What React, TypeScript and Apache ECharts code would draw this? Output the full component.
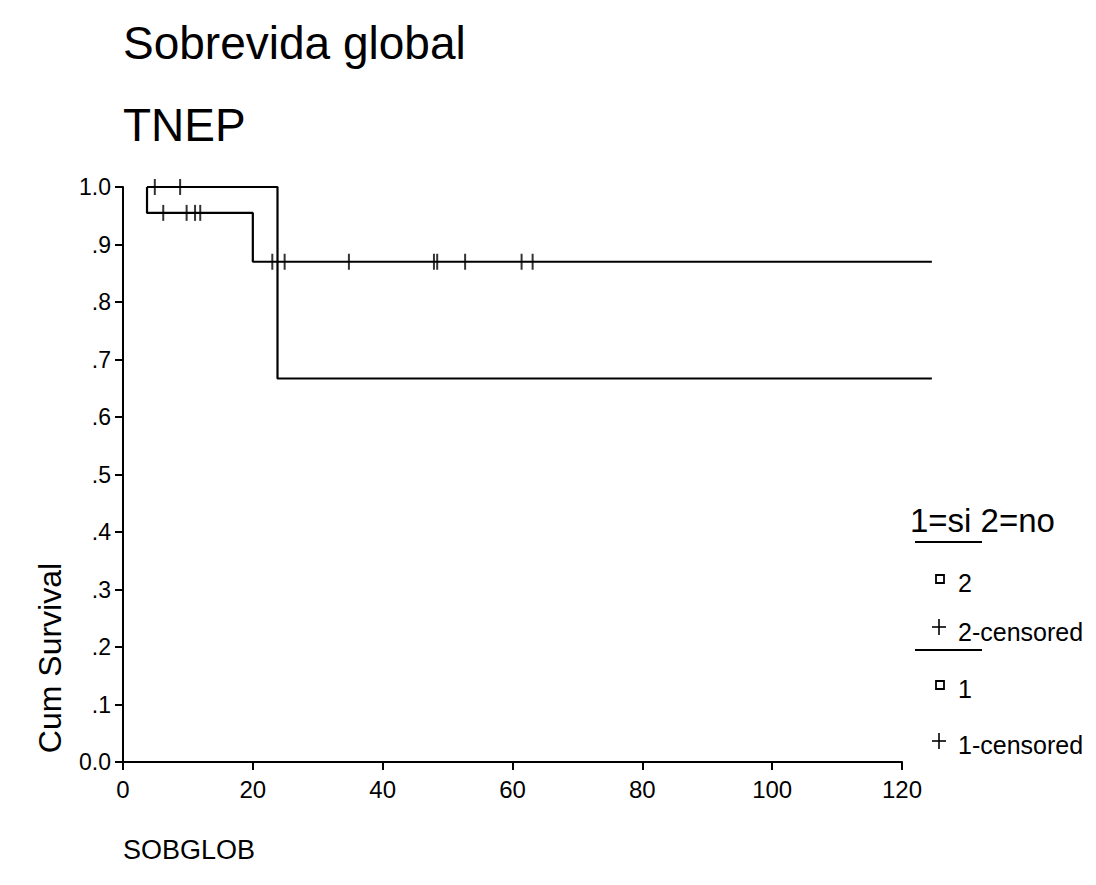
import React, { useEffect, useRef } from "react";
import * as echarts from "echarts";

const titleLines = ["Sobrevida global", "TNEP"];
const xAxisName = "SOBGLOB";
const yAxisName = "Cum Survival";
const legendTitle = "1=si 2=no";
const xTicks = [0, 20, 40, 60, 80, 100, 120];
const curveMaxTime = 125;

// Group "2" (upper curve, drops to .667)
const g2Times = [3.7, 23.8, 124.6];
const g2Surv = [1.0, 0.667, 0.667];
const g2CensorTimes = [4.9, 8.8];
const g2CensorSurv = [1.0, 1.0];

// Group "1" (lower curve)
const g1Times = [3.7, 3.7, 20.0, 124.6];
const g1Surv = [1.0, 0.955, 0.87, 0.87];
const g1CensorTimes = [6.2, 9.8, 11.1, 11.9, 23.0, 24.9, 34.8, 47.9, 48.4, 52.7, 61.4, 63.1];
const g1CensorSurv = [0.955, 0.955, 0.955, 0.955, 0.87, 0.87, 0.87, 0.87, 0.87, 0.87, 0.87, 0.87];

const FONT = "'Liberation Sans', Arial, Helvetica, sans-serif";

function zip(a: number[], b: number[]) {
  return a.map((v, i) => [v, b[i]]);
}

export default function App() {
  const ref = useRef<HTMLDivElement>(null);
  useEffect(() => {
    document.body.style.margin = "0";
    if (!ref.current) return;
    const chart = echarts.init(ref.current, undefined, { renderer: "svg" });
    const lineStyle = { color: "#000", width: 2.2 };
    const gridLeft = 123;
    const gridTop = 187;
    const gridW = 779;
    const gridH = 575;
    const xMax = xTicks[xTicks.length - 1];
    const censorSeries = (name: string, t: number[], s: number[]) => ({
      name,
      type: "scatter",
      xAxisIndex: 0,
      yAxisIndex: 0,
      data: zip(t, s),
      symbol: "rect",
      symbolSize: [2, 16],
      itemStyle: { color: "#000" },
      silent: true,
      z: 3,
    });
    const curveSeries = (name: string, t: number[], s: number[]) => ({
      name,
      type: "line",
      step: "end",
      xAxisIndex: 1,
      yAxisIndex: 1,
      data: zip(t, s),
      showSymbol: false,
      lineStyle,
      clip: false,
      silent: true,
      z: 2,
    });
    const txt = (text: string, x: number, y: number, size: number) => ({
      type: "text",
      x,
      y,
      style: { text, fontSize: size, fontFamily: FONT, fill: "#000", verticalAlign: "middle" },
    });
    const hline = (x1: number, x2: number, y: number, w: number) => ({
      type: "line",
      shape: { x1, y1: y, x2, y2: y },
      style: { stroke: "#000", lineWidth: w },
    });
    const vline = (x: number, y1: number, y2: number, w: number) => ({
      type: "line",
      shape: { x1: x, y1, x2: x, y2 },
      style: { stroke: "#000", lineWidth: w },
    });
    const sq = (x: number, y: number) => ({
      type: "rect",
      shape: { x: x - 4, y: y - 4, width: 8, height: 8 },
      style: { fill: "none", stroke: "#000", lineWidth: 1.8 },
    });
    chart.setOption({
      animation: false,
      backgroundColor: "#fff",
      grid: [
        { left: gridLeft, top: gridTop, width: gridW, height: gridH },
        { left: gridLeft, top: gridTop, width: (gridW * curveMaxTime) / xMax, height: gridH },
      ],
      xAxis: [
        {
          type: "value",
          gridIndex: 0,
          min: xTicks[0],
          max: xMax,
          interval: 20,
          axisLine: { lineStyle: { color: "#000", width: 2 } },
          axisTick: { show: true, length: 8, lineStyle: { color: "#000", width: 2 } },
          axisLabel: { color: "#000", fontSize: 24, fontFamily: FONT, margin: 15 },
          splitLine: { show: false },
        },
        { type: "value", gridIndex: 1, min: 0, max: curveMaxTime, show: false },
      ],
      yAxis: [
        {
          type: "value",
          gridIndex: 0,
          min: 0,
          max: 1,
          interval: 0.1,
          axisLine: { show: true, lineStyle: { color: "#000", width: 2 } },
          axisTick: { show: true, length: 8, lineStyle: { color: "#000", width: 2 } },
          axisLabel: {
            color: "#000",
            fontSize: 23,
            fontFamily: FONT,
            margin: 12,
            formatter: (v: number) => {
              if (Math.abs(v - 1) < 1e-6) return "1.0";
              if (Math.abs(v) < 1e-6) return "0.0";
              return "." + Math.round(v * 10);
            },
          },
          splitLine: { show: false },
        },
        { type: "value", gridIndex: 1, min: 0, max: 1, show: false },
      ],
      series: [
        curveSeries("2", g2Times, g2Surv),
        censorSeries("2-censored", g2CensorTimes, g2CensorSurv),
        curveSeries("1", g1Times, g1Surv),
        censorSeries("1-censored", g1CensorTimes, g1CensorSurv),
      ],
      graphic: [
        { type: "text", left: 123, top: 20, style: { text: titleLines[0], fontSize: 46, fontFamily: FONT, fill: "#000" } },
        { type: "text", left: 123, top: 102, style: { text: titleLines[1], fontSize: 46, fontFamily: FONT, fill: "#000" } },
        { type: "text", left: 123, top: 836, style: { text: xAxisName, fontSize: 27, fontFamily: FONT, fill: "#000" } },
        {
          type: "text",
          x: 50,
          y: 658,
          rotation: Math.PI / 2,
          style: { text: yAxisName, fontSize: 32, fontFamily: FONT, fill: "#000", align: "center", verticalAlign: "middle" },
        },
        txt(legendTitle, 910, 520, 33),
        hline(915, 982, 542, 2),
        sq(940, 579),
        txt("2", 958, 583, 25),
        hline(932, 946, 627, 1.6),
        vline(939, 619, 635, 1.6),
        txt("2-censored", 958, 632, 25),
        hline(915, 982, 650, 2),
        sq(940, 685),
        txt("1", 958, 689, 25),
        hline(932, 946, 741, 1.6),
        vline(939, 733, 749, 1.6),
        txt("1-censored", 958, 745, 25),
      ],
    });
    return () => chart.dispose();
  }, []);
  return <div ref={ref} style={{ width: 1096, height: 885 }} />;
}
